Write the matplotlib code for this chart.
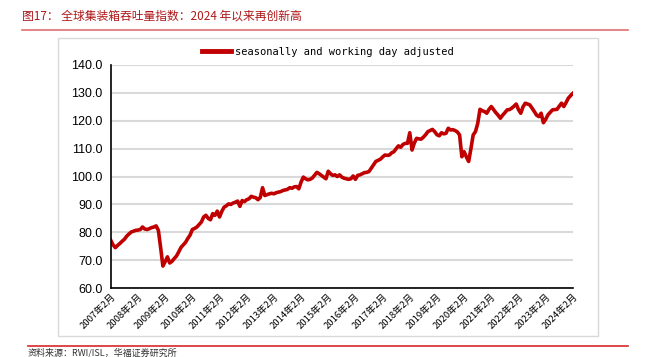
import matplotlib
matplotlib.use("Agg")
import matplotlib.pyplot as plt
from matplotlib.patches import Rectangle
from matplotlib.lines import Line2D

plt.rcParams['font.family'] = ['Noto Sans CJK SC', 'DejaVu Sans']

# monthly index, Feb 2007 .. Feb 2024
values = [
    77.1, 75.5, 74.5, 75.3, 76.0, 76.8, 77.5, 78.6, 79.4, 80.1, 80.4,          # 2007 Feb-Dec
    80.7, 80.8, 81.0, 81.9, 81.2, 81.0, 81.3, 81.7, 81.9, 82.3, 80.7, 74.5,    # 2008
    67.9, 69.5, 71.2, 69.0, 69.6, 70.6, 71.5, 73.0, 74.6, 75.5, 76.4, 77.8,    # 2009
    79.0, 81.0, 81.4, 81.9, 82.8, 83.7, 85.5, 86.1, 85.0, 84.5, 86.7, 86.1,    # 2010
    87.6, 85.5, 87.5, 89.0, 89.5, 90.2, 90.0, 90.5, 90.8, 91.2, 89.3, 91.4,    # 2011
    91.0, 91.7, 92.0, 92.9, 92.6, 92.4, 91.7, 92.5, 96.0, 93.2, 93.5, 93.8,    # 2012
    94.0, 93.8, 94.2, 94.4, 94.6, 95.0, 95.2, 95.4, 96.0, 95.8, 96.3, 96.4,    # 2013
    95.6, 98.0, 99.8, 99.2, 98.8, 99.0, 99.5, 100.5, 101.5, 101.0, 100.4, 99.8,  # 2014
    99.2, 101.9, 101.0, 100.4, 100.6, 100.0, 100.6, 99.8, 99.4, 99.2, 99.0, 99.2,  # 2015
    100.2, 99.0, 100.4, 100.6, 101.0, 101.4, 101.5, 101.8, 103.0, 104.2, 105.4, 105.8,  # 2016
    106.2, 107.0, 107.7, 107.6, 107.7, 108.5, 108.9, 110.0, 111.0, 110.5, 111.5, 111.9,  # 2017
    111.9, 115.7, 109.5, 112.0, 113.7, 113.5, 113.4, 114.1, 115.0, 116.1, 116.5, 116.9,  # 2018
    116.1, 115.0, 114.6, 115.7, 115.3, 115.5, 117.3, 116.7, 116.8, 116.5, 116.0, 114.9,  # 2019
    107.1, 108.9, 107.0, 105.4, 110.0, 114.9, 116.1, 119.0, 124.1, 123.6, 123.3, 122.7,  # 2020
    124.1, 125.1, 124.0, 122.9, 122.0, 120.9, 122.0, 122.9, 123.9, 124.0, 124.5, 125.2,  # 2021
    126.0, 124.0, 122.7, 125.0, 126.3, 126.0, 125.7, 124.5, 123.3, 122.0, 121.5, 122.7,  # 2022
    119.3, 120.5, 122.1, 123.0, 123.9, 124.0, 124.1, 125.2, 126.3, 125.1, 126.5, 128.1,  # 2023
    129.0, 129.8,                                                               # 2024 Jan-Feb
]
years = list(range(2007, 2025))
tick_labels = [f"{y}年2月" for y in years]
yticks = [60, 70, 80, 90, 100, 110, 120, 130, 140]

red = '#c00000'

fig = plt.figure(figsize=(6.48, 3.57), dpi=100)
ax = fig.add_axes([0.171, 0.193, 0.713, 0.625])

x = list(range(len(values)))
ax.plot(x, values, color=red, lw=2.6, solid_joinstyle='round')

ax.set_xlim(0, len(values) - 1)
ax.set_ylim(60, 140)
ax.set_yticks(yticks)
ax.set_yticklabels([f"{v:.1f}" for v in yticks], fontsize=9,
                   family=['Liberation Sans', 'DejaVu Sans'])
ax.set_xticks(list(range(0, len(values), 12)))
ax.set_xticklabels(tick_labels, rotation=45, ha='right', rotation_mode='anchor', fontsize=6.8)
ax.tick_params(axis='both', length=0, pad=6)
ax.tick_params(axis='x', pad=3)

ax.grid(axis='y', color='#d9d9d9', lw=1.5)
ax.set_axisbelow(True)
for s in ['top', 'right']:
    ax.spines[s].set_visible(False)
ax.spines['left'].set_linewidth(1.2)
ax.spines['bottom'].set_linewidth(1.2)

handle = Line2D([], [], color=red, lw=3.5)
ax.legend([handle], ['seasonally and working day adjusted'], loc='center',
          bbox_to_anchor=(0.47, 1.058), frameon=False, handlelength=2.8, handletextpad=0.4,
          borderpad=0, prop={'family': 'DejaVu Sans Mono', 'size': 7.5})

# outer frame
fig.patches.append(Rectangle((58 / 648, 1 - 336 / 357), (598 - 58) / 648, (336 - 38) / 357,
                             transform=fig.transFigure, fill=False, ec='#d9d9d9', lw=1))

# title and rules
fig.text(22 / 648, 1 - 16 / 357, "图17： 全球集装箱吞吐量指数：2024 年以来再创新高",
         fontsize=8.5, color='#b01818', va='center', ha='left')
fig.add_artist(Line2D([22 / 648, 628 / 648], [1 - 30 / 357, 1 - 30 / 357],
                      transform=fig.transFigure, color='#e07070', lw=1.2))
fig.add_artist(Line2D([28 / 648, 628 / 648], [1 - 346 / 357, 1 - 346 / 357],
                      transform=fig.transFigure, color='#d42a2a', lw=1.2))
fig.text(28 / 648, 1 - 348 / 357, "资料来源：RWI/ISL，华福证券研究所", fontsize=6.5,
         color='#333333', va='top', ha='left')

fig.savefig('out.png', dpi=100)
